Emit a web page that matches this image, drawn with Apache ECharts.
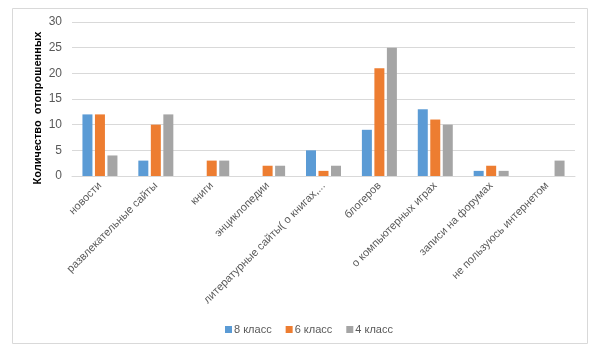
<!DOCTYPE html>
<html><head><meta charset="utf-8">
<script src="https://cdn.jsdelivr.net/npm/echarts@6/dist/echarts.min.js"></script>
<style>html,body{margin:0;padding:0;background:#fff}#c{width:598px;height:358px}</style>
</head><body><div id="c"></div>
<script>
const categories = ["новости","развлекательные сайты","книги","энциклопедии","литературные сайты( о книгах,...","блогеров","о компьютерных играх","записи на форумах","не пользуюсь интернетом"];
const grade8 = [12,3,0,0,5,9,13,1,0];
const grade6 = [12,10,3,2,1,21,11,2,0];
const grade4 = [4,12,3,2,2,25,10,1,3];
const seriesNames = ["8 класс","6 класс","4 класс"];
const yTitle = "Количество  отопрошенных";
const yTicks = {min:0,max:30,interval:5};

const chart = echarts.init(document.getElementById('c'));
const colors = ['#5B9BD5','#ED7D31','#A5A5A5'];
const mk = (name, data, i) => ({name, type:'bar', data, barWidth:10, barGap:'25%', itemStyle:{color:colors[i]}});
chart.setOption({
  animation:false,
  textStyle:{fontFamily:'Liberation Sans, Arial, sans-serif'},
  graphic:[
    {type:'rect',shape:{x:12.5,y:8.5,width:575,height:335},style:{fill:'none',stroke:'#d9d9d9',lineWidth:1},silent:true},
    {type:'text',x:38,y:108,rotation:Math.PI/2,silent:true,
      style:{text:yTitle,fill:'#000',font:'bold 11px Liberation Sans, Arial, sans-serif',textAlign:'center',textVerticalAlign:'middle'}}
  ],
  grid:{left:72,right:23,top:22,bottom:182},
  legend:{top:319,left:220,itemWidth:7,itemHeight:7,itemGap:14,icon:'rect',
    textStyle:{color:'#595959',fontSize:11,padding:[0,0,0,-3]},data:seriesNames},
  xAxis:{type:'category',data:categories,
    axisLine:{lineStyle:{color:'#d9d9d9'}},axisTick:{show:false},
    axisLabel:{rotate:45,interval:0,color:'#595959',fontSize:11,margin:8}},
  yAxis:{type:'value',min:yTicks.min,max:yTicks.max,interval:yTicks.interval,
    axisLine:{show:false},axisTick:{show:false},
    axisLabel:{color:'#595959',fontSize:12,margin:10},
    splitLine:{lineStyle:{color:'#d9d9d9'}}},
  series:[mk(seriesNames[0],grade8,0),mk(seriesNames[1],grade6,1),mk(seriesNames[2],grade4,2)]
});
</script></body></html>
